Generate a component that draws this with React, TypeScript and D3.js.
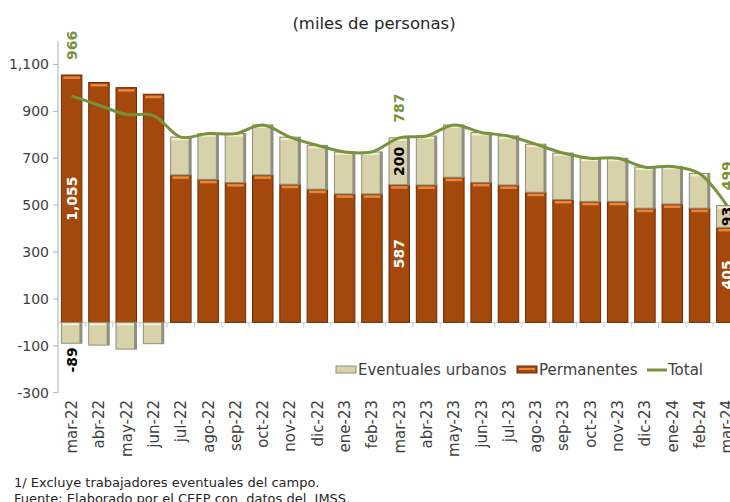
import { scaleBand, scaleLinear, line, curveCatmullRom, format } from "d3";

// Trabajadores asegurados en el IMSS (miles de personas)
const months = [
  "mar-22", "abr-22", "may-22", "jun-22", "jul-22", "ago-22", "sep-22", "oct-22", "nov-22",
  "dic-22", "ene-23", "feb-23", "mar-23", "abr-23", "may-23", "jun-23", "jul-23", "ago-23",
  "sep-23", "oct-23", "nov-23", "dic-23", "ene-24", "feb-24", "mar-24",
];
const permanentes = [
  1055, 1023, 1001, 973, 629, 610, 596, 629, 589, 568, 548, 548, 587, 586, 619, 597, 586, 555,
  524, 516, 516, 487, 505, 487, 405,
];
const eventuales = [
  -89, -97, -114, -91, 161, 195, 209, 213, 201, 187, 179, 179, 200, 209, 223, 213, 209, 205,
  198, 184, 184, 175, 160, 148, 93,
];
const total = [
  966, 926, 887, 882, 790, 805, 805, 842, 790, 755, 727, 727, 787, 795, 842, 810, 795, 760,
  722, 700, 700, 662, 665, 635, 499,
];
const labeled = [0, 12, 24];
const yTicks = [-300, -100, 100, 300, 500, 700, 900, 1100];

const W = 730;
const H = 502;
const FONT = "'DejaVu Sans', sans-serif";
const C = {
  perm: "#a5480b",
  permEdge: "#6a2c04",
  permHi: "#e8873a",
  ev: "#d8d2ab",
  evEdge: "#8e8e82",
  evHi: "#f1eecb",
  total: "#77933c",
  text: "#404040",
  axis: "#a9b2bf",
};

const comma = format(",");
// Excel-style hyphen instead of the unicode minus
const fmt = (v: number) => comma(v).replace("\u2212", "-");

export default function App() {
  const x = scaleBand<string>()
    .domain(months)
    .range([58, 58 + 25 * 27.3])
    .paddingInner(0.25)
    .paddingOuter(0.125);
  const y = scaleLinear().domain([-300, 1200]).range([392.7, 41]);
  const bw = x.bandwidth();
  const cx = (i: number) => (x(months[i]) ?? 0) + bw / 2;

  const lineGen = line<number>()
    .x((_d, i) => cx(i))
    .y((d) => y(d))
    .curve(curveCatmullRom.alpha(0.5));

  const y0 = y(0);

  return (
    <>
      <style>{"body{margin:0}"}</style>
      <svg width={W} height={H} style={{ display: "block", background: "#fff" }} fontFamily={FONT}>
        <text x={374} y={29} textAnchor="middle" fontSize={16.5} fill="#262626">
          (miles de personas)
        </text>

        {/* y axis */}
        <line x1={58} x2={58} y1={y(1200)} y2={y(-300)} stroke={C.axis} />
        {yTicks.map((t) => (
          <g key={t}>
            <line x1={53} x2={58} y1={y(t)} y2={y(t)} stroke={C.axis} />
            <text x={49} y={y(t)} dy="0.36em" textAnchor="end" fontSize={14} fill={C.text}>
              {fmt(t)}
            </text>
          </g>
        ))}

        {/* zero line with category ticks */}
        <line x1={58} x2={W} y1={y0} y2={y0} stroke="#d0d0d0" />
        {months.map((m, i) => (
          <line key={m} x1={58 + i * x.step()} x2={58 + i * x.step()} y1={y0} y2={y0 + 5} stroke="#c8c8c8" />
        ))}

        {/* bars */}
        {months.map((m, i) => {
          const bx = x(m) ?? 0;
          const p = permanentes[i];
          const e = eventuales[i];
          const pTop = y(p);
          const eTop = e >= 0 ? y(p + e) : y0;
          const eBot = e >= 0 ? pTop : y(e);
          return (
            <g key={m}>
              <rect x={bx} y={pTop} width={bw} height={y0 - pTop} fill={C.perm} stroke={C.permEdge} strokeWidth={1} />
              <rect x={bx + 2} y={pTop + 1.5} width={bw - 4} height={2.5} fill={C.permHi} />
              <rect x={bx} y={eTop} width={bw} height={eBot - eTop} fill={C.ev} stroke={C.evEdge} strokeWidth={1} />
              <rect x={bx + 1} y={eTop + 1} width={bw - 2} height={2} fill={C.evHi} />
              <rect x={bx + bw - 2.5} y={eTop} width={2.5} height={eBot - eTop} fill={C.evEdge} />
            </g>
          );
        })}

        {/* total line */}
        <path d={lineGen(total) || ""} fill="none" stroke={C.total} strokeWidth={3} strokeLinejoin="round" />

        {/* data labels */}
        {labeled.map((i) => {
          const c = cx(i);
          const p = permanentes[i];
          const e = eventuales[i];
          const top = Math.min(y(total[i]), y(p), y(p + e));
          const permMid = (y(p) + y0) / 2;
          const evMid = e >= 0 ? (y(p + e) + y(p)) / 2 : 0;
          return (
            <g key={i} fontWeight="bold" fontSize={14}>
              <text transform={`translate(${c},${top - 15}) rotate(-90)`} dy="0.36em" textAnchor="start" fill={C.total}>
                {fmt(total[i])}
              </text>
              <text transform={`translate(${c},${permMid}) rotate(-90)`} dy="0.36em" textAnchor="middle" fill="#fff">
                {fmt(p)}
              </text>
              {e >= 0 ? (
                <text transform={`translate(${c},${evMid}) rotate(-90)`} dy="0.36em" textAnchor="middle" fill="#000">
                  {fmt(e)}
                </text>
              ) : (
                <text transform={`translate(${c},${y(e) + 4}) rotate(-90)`} dy="0.36em" textAnchor="end" fill="#000">
                  {fmt(e)}
                </text>
              )}
            </g>
          );
        })}

        {/* x labels */}
        {months.map((m, i) => (
          <text
            key={m}
            transform={`translate(${cx(i)},400) rotate(-90)`}
            dy="0.36em"
            textAnchor="end"
            fontSize={15}
            fill={C.text}
          >
            {m}
          </text>
        ))}

        {/* legend */}
        <g fontSize={15} fill={C.text}>
          <rect x={336} y={366} width={20} height={7} fill={C.ev} stroke={C.evEdge} />
          <text x={358} y={375}>Eventuales urbanos</text>
          <rect x={517} y={366} width={20} height={7} fill={C.perm} stroke={C.permEdge} />
          <rect x={519} y={368} width={16} height={2} fill={C.permHi} />
          <text x={539} y={375}>Permanentes</text>
          <line x1={647} x2={667} y1={370} y2={370} stroke={C.total} strokeWidth={3} />
          <text x={668} y={375}>Total</text>
        </g>

        {/* notes */}
        <g fontSize={13} fill="#262626">
          <text x={14} y={487}>1/ Excluye trabajadores eventuales del campo.</text>
          <text x={14} y={503} xmlSpace="preserve" style={{ whiteSpace: "pre" }}>
            {"Fuente: Elaborado por el CEFP con\u00a0 datos del\u00a0 IMSS."}
          </text>
        </g>
      </svg>
    </>
  );
}
